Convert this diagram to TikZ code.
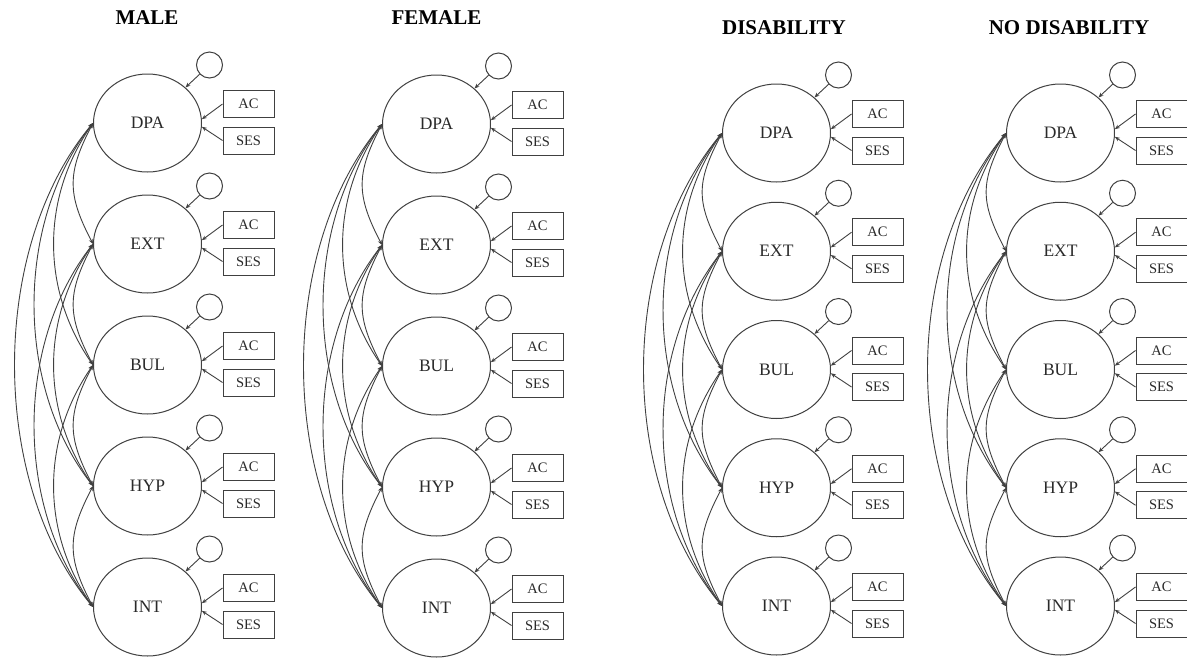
\documentclass[tikz,border=0pt]{standalone}
\usepackage{fontspec}
\setmainfont{Liberation Serif}
\usetikzlibrary{arrows.meta,shapes.geometric}
\definecolor{linecol}{HTML}{404040}
\definecolor{textcol}{HTML}{2A2A2A}
\begin{document}
\begin{tikzpicture}[x=1pt,y=-1pt,
  lat/.style={ellipse, draw=linecol, line width=1pt, minimum width=108pt, minimum height=98pt, inner sep=0pt, font=\fontsize{17.5}{17.5}\selectfont, text=textcol},
  res/.style={circle, draw=linecol, line width=1pt, minimum size=26pt, inner sep=0pt},
  obs/.style={rectangle, draw=linecol, line width=1pt, minimum width=51pt, minimum height=27pt, inner sep=0pt, font=\fontsize{14.5}{14.5}\selectfont, text=textcol},
  pth/.style={-{Stealth[length=5pt,width=4pt]}, draw=linecol, line width=0.9pt},
  cov/.style={{Stealth[length=5pt,width=4pt]}-{Stealth[length=5pt,width=4pt]}, draw=linecol, line width=0.9pt},
  ttl/.style={font=\fontsize{21}{21}\selectfont\bfseries, text=black}]
\useasboundingbox (0,0) rectangle (1187,657);
\foreach \p/\cx/\yo/\gap/\tx/\ty/\ttext in {1/147.5/123/121/147/18/MALE, 2/436.5/124/121/436.5/17.5/FEMALE, 3/776.5/133/118.25/784/28/DISABILITY, 4/1060.5/133/118.25/1069/28/NO DISABILITY}{
  \node[ttl] (t\p) at (\tx,\ty) {\ttext};
  \foreach \lab [count=\i from 0] in {DPA,EXT,BUL,HYP,INT}{
    \pgfmathsetmacro\yy{\yo+\i*\gap}
    \node[lat] (p\p-\i) at (\cx,\yy) {\lab};
    \node[res] (r\p-\i) at ({\cx+62},{\yy-58}) {};
    \node[obs] (ac\p-\i) at ({\cx+101},{\yy-19}) {AC};
    \node[obs] (ses\p-\i) at ({\cx+101},{\yy+17.5}) {SES};
    \draw[pth] (r\p-\i) -- (p\p-\i);
    \draw[pth] (ac\p-\i.west) -- (p\p-\i.4);
    \draw[pth] (ses\p-\i.west) -- (p\p-\i.-4);
  }
  \foreach \a in {0,...,3}{
    \pgfmathtruncatemacro\s{\a+1}
    \foreach \b in {\s,...,4}{
      \pgfmathtruncatemacro\spn{\b-\a}
      \draw[cov] (p\p-\a.west) .. controls +({-26*\spn},{25+25*\spn}) and +({-26*\spn},{-25-25*\spn}) .. (p\p-\b.west);
    }
  }
}
\end{tikzpicture}
\end{document}
